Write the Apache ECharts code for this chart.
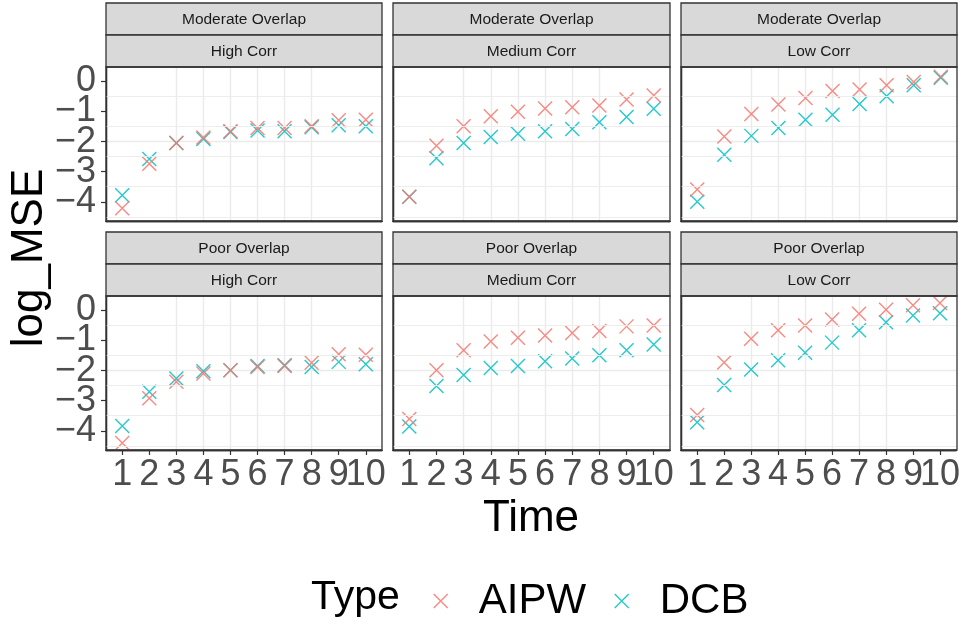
<!DOCTYPE html>
<html><head><meta charset="utf-8">
<script src="https://cdn.jsdelivr.net/npm/echarts@6/dist/echarts.min.js"></script>
<style>html,body{margin:0;padding:0;background:#fff}#c{width:963px;height:624px}</style>
</head><body><div id="c"></div><script>
const times = [1, 2, 3, 4, 5, 6, 7, 8, 9, 10];
const yTickValues = [-4, -3, -2, -1, 0];
const yMinorValues = [-4.5, -3.5, -2.5, -1.5, -0.5];
const overlapLabels = ['Moderate Overlap', 'Poor Overlap'];
const corrLabels = ['High Corr', 'Medium Corr', 'Low Corr'];
const typeLabels = ['AIPW', 'DCB'];

const aipwModerateHigh   = [-4.22, -2.74, -2.05, -1.86, -1.66, -1.55, -1.55, -1.49, -1.29, -1.27];
const dcbModerateHigh    = [-3.78, -2.58, -2.05, -1.91, -1.68, -1.63, -1.66, -1.52, -1.46, -1.49];
const aipwModerateMedium = [-3.83, -2.14, -1.49, -1.16, -1.01, -0.90, -0.86, -0.80, -0.60, -0.47];
const dcbModerateMedium  = [-3.83, -2.55, -2.05, -1.85, -1.74, -1.66, -1.58, -1.36, -1.18, -0.91];
const aipwModerateLow    = [-3.59, -1.83, -1.08, -0.77, -0.55, -0.32, -0.27, -0.13, -0.02, 0.16];
const dcbModerateLow     = [-4.00, -2.44, -1.81, -1.55, -1.27, -1.11, -0.75, -0.49, -0.13, 0.12];
const aipwPoorHigh       = [-4.41, -2.92, -2.37, -2.10, -1.99, -1.88, -1.85, -1.74, -1.46, -1.47];
const dcbPoorHigh        = [-3.84, -2.70, -2.26, -2.02, -1.99, -1.85, -1.82, -1.88, -1.71, -1.79];
const aipwPoorMedium     = [-3.61, -1.99, -1.32, -1.03, -0.91, -0.83, -0.75, -0.68, -0.53, -0.50];
const dcbPoorMedium      = [-3.86, -2.51, -2.15, -1.91, -1.85, -1.69, -1.60, -1.49, -1.32, -1.13];
const aipwPoorLow        = [-3.48, -1.73, -0.94, -0.66, -0.50, -0.30, -0.11, 0.02, 0.17, 0.25];
const dcbPoorLow         = [-3.72, -2.48, -1.96, -1.66, -1.41, -1.07, -0.66, -0.39, -0.17, -0.09];

const panelData = [
  [aipwModerateHigh, dcbModerateHigh], [aipwModerateMedium, dcbModerateMedium], [aipwModerateLow, dcbModerateLow],
  [aipwPoorHigh, dcbPoorHigh], [aipwPoorMedium, dcbPoorMedium], [aipwPoorLow, dcbPoorLow]
];

const FONT = '"Liberation Sans", Arial, Helvetica, sans-serif';
const COLORS = { AIPW: '#F8766D', DCB: '#00BFC4' };
const CROSS = 'path://M0,0L10,10M10,0L0,10';
const colLeft = [106, 393, 681];
const colWidth = [276, 277, 276];
const rowTop = [67, 296];
const rowHeight = 154;
const stripTop = [3, 232];
const stripH = 32;
const X_MIN = 0.4, X_MAX = 10.6, Y_MIN = -4.64, Y_MAX = 0.48;

// labels split over two axes per side so neighbouring big labels are not dropped
const xLabelSets = [times.filter((t, i) => i % 2 === 0), times.filter((t, i) => i % 2 === 1)];
const yLabelSets = [yTickValues.filter((t, i) => i % 2 === 0), yTickValues.filter((t, i) => i % 2 === 1)];

const grids = [], xAxes = [], yAxes = [], series = [], graphics = [];
for (let r = 0; r < 2; r++) {
  for (let c = 0; c < 3; c++) {
    const k = r * 3 + c;
    grids.push({ left: colLeft[c], top: rowTop[r], width: colWidth[c], height: rowHeight, show: true, backgroundColor: '#FFFFFF', borderWidth: 0 });
    const xMain = xAxes.length;
    [0, 1].forEach(s => {
      xAxes.push({
        type: 'value', gridIndex: k, min: X_MIN, max: X_MAX, splitNumber: 10, position: 'bottom',
        axisLine: { show: true, onZero: false, lineStyle: { color: '#333333', width: 1.3 } },
        axisTick: { show: r === 1, customValues: xLabelSets[s], length: 5, lineStyle: { color: '#333333', width: 1.2 } },
        axisLabel: { show: r === 1, customValues: xLabelSets[s], fontSize: 36, color: '#4D4D4D', fontFamily: FONT, margin: 7,
          showMinLabel: true, showMaxLabel: true, hideOverlap: false },
        splitLine: { show: true, showMinLine: false, showMaxLine: false, lineStyle: { color: '#EBEBEB', width: 1.4 } }
      });
    });
    const yMain = yAxes.length;
    [0, 1].forEach(s => {
      yAxes.push({
        type: 'value', gridIndex: k, min: Y_MIN, max: Y_MAX, splitNumber: 5, position: 'left',
        axisLine: { show: true, onZero: false, lineStyle: { color: '#333333', width: 1.3 } },
        axisTick: { show: c === 0, customValues: yLabelSets[s], length: 5, lineStyle: { color: '#333333', width: 1.2 } },
        axisLabel: { show: c === 0, customValues: yLabelSets[s], fontSize: 36, color: '#4D4D4D', fontFamily: FONT, margin: 10,
          showMinLabel: true, showMaxLabel: true, hideOverlap: false,
          formatter: v => (v < 0 ? '\u2212' + Math.abs(v) : String(v)) },
        splitLine: { show: true, showMinLine: false, showMaxLine: false, lineStyle: { color: '#EBEBEB', width: 1.4 } }
      });
    });
    series.push({
      type: 'line', xAxisIndex: xMain, yAxisIndex: yMain, data: [], silent: true, z: 1,
      markLine: { silent: true, symbol: 'none', animation: false, label: { show: false },
        lineStyle: { color: '#EBEBEB', width: 0.9, type: 'solid' },
        emphasis: { disabled: true },
        data: yMinorValues.map(v => ({ yAxis: v })) }
    });
    const [aipw, dcb] = panelData[k];
    [['DCB', dcb], ['AIPW', aipw]].forEach(([name, vals]) => {
      series.push({
        type: 'scatter', name, xAxisIndex: xMain, yAxisIndex: yMain, z: 3,
        symbol: CROSS, symbolSize: 14,
        itemStyle: { color: 'rgba(0,0,0,0)', borderColor: COLORS[name], borderWidth: 1.4, opacity: 0.85 },
        emphasis: { disabled: true },
        data: times.map((t, i) => [t, vals[i]])
      });
    });
    graphics.push({ type: 'rect', z: 50, silent: true,
      shape: { x: colLeft[c], y: rowTop[r], width: colWidth[c], height: rowHeight },
      style: { fill: 'none', stroke: '#333333', lineWidth: 1.3 } });
    [overlapLabels[r], corrLabels[c]].forEach((txt, j) => {
      const y0 = stripTop[r] + j * stripH;
      graphics.push({ type: 'rect', z: 40, silent: true,
        shape: { x: colLeft[c], y: y0, width: colWidth[c], height: stripH },
        style: { fill: '#D9D9D9', stroke: '#333333', lineWidth: 1.3 } });
      graphics.push({ type: 'text', z: 45, silent: true, x: colLeft[c] + colWidth[c] / 2, y: y0 + stripH / 2 + 1,
        style: { text: txt, fontSize: 15.5, fill: '#1A1A1A', fontFamily: FONT, align: 'center', verticalAlign: 'middle' } });
    });
  }
}
graphics.push({ type: 'text', x: 30, y: 258, rotation: Math.PI / 2, silent: true,
  style: { text: 'log_MSE', fontSize: 44, fill: '#000', fontFamily: FONT, align: 'center', verticalAlign: 'middle' } });
graphics.push({ type: 'text', x: 531, y: 519, silent: true,
  style: { text: 'Time', fontSize: 44, fill: '#000', fontFamily: FONT, align: 'center', verticalAlign: 'middle' } });
graphics.push({ type: 'text', x: 311, y: 598, silent: true,
  style: { text: 'Type', fontSize: 41, fill: '#000', fontFamily: FONT, align: 'left', verticalAlign: 'middle' } });

const chart = echarts.init(document.getElementById('c'), null, { renderer: 'canvas' });
chart.setOption({
  animation: false,
  backgroundColor: '#FFFFFF',
  grid: grids, xAxis: xAxes, yAxis: yAxes, series,
  legend: {
    data: typeLabels.map(n => ({ name: n, icon: CROSS, itemStyle: { color: 'rgba(0,0,0,0)', borderColor: COLORS[n], borderWidth: 1.4 } })),
    left: 428, top: 575, itemWidth: 14, itemHeight: 14, itemGap: 28, selectedMode: false,
    textStyle: { fontSize: 42, color: '#000', fontFamily: FONT, padding: [0, 0, 0, 26] }
  },
  graphic: graphics
});
</script></body></html>
